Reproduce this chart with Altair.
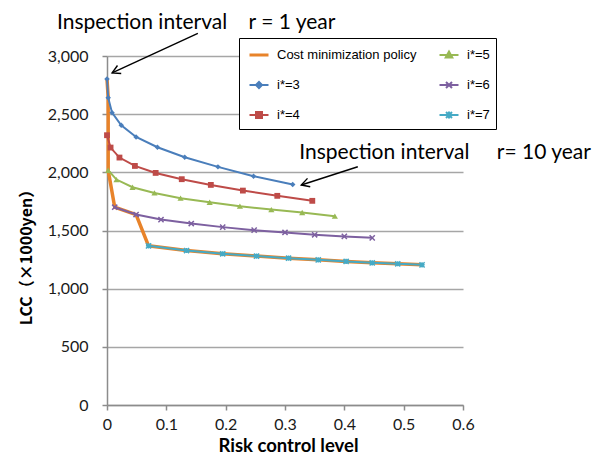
import altair as alt
import pandas as pd

# ---------------- data ----------------
COST = "Cost minimization policy"
series_names = [COST, "i*=3", "i*=4", "i*=5", "i*=6", "i*=7"]
series_colors = ["#E8832A", "#4A7EBB", "#BE4B48", "#98B954", "#7D60A0", "#46AAC5"]

cost_x = [0.000, 0.002, 0.002, 0.013, 0.049, 0.070, 0.134, 0.195, 0.252, 0.306, 0.356, 0.403, 0.447, 0.490, 0.531]
cost_y = [2802, 2642, 2018, 1700, 1637, 1368, 1328, 1300, 1280, 1262, 1248, 1234, 1222, 1214, 1205]

i3_x = [0.000, 0.002, 0.0085, 0.024, 0.049, 0.085, 0.131, 0.187, 0.247, 0.313]
i3_y = [2802, 2642, 2513, 2405, 2304, 2216, 2130, 2047, 1967, 1895]

i4_x = [0.000, 0.006, 0.021, 0.047, 0.082, 0.126, 0.175, 0.229, 0.287, 0.346]
i4_y = [2319, 2213, 2127, 2055, 1995, 1941, 1892, 1843, 1798, 1755]

i5_x = [0.002, 0.016, 0.043, 0.080, 0.124, 0.173, 0.224, 0.277, 0.329, 0.384]
i5_y = [2018, 1938, 1872, 1823, 1778, 1743, 1709, 1680, 1655, 1623]

i6_x = [0.013, 0.049, 0.091, 0.142, 0.195, 0.248, 0.300, 0.350, 0.400, 0.447]
i6_y = [1700, 1637, 1594, 1560, 1529, 1503, 1483, 1463, 1449, 1437]

i7_x = [0.070, 0.134, 0.195, 0.252, 0.306, 0.356, 0.403, 0.447, 0.490, 0.531]
i7_y = [1368, 1328, 1300, 1280, 1262, 1248, 1234, 1222, 1214, 1205]

x_ticks = [0, 0.1, 0.2, 0.3, 0.4, 0.5, 0.6]
y_ticks = [0, 500, 1000, 1500, 2000, 2500, 3000]

# annotations (data coordinates)
note_text = ["Inspection interval", "r = 1 year", "Inspection interval", "r= 10 year"]
note_x = [-0.0843, 0.2386, 0.324, 0.657]
note_y = [3232, 3232, 2112, 2112]

arrow_x0 = [0.1531, 0.4227]
arrow_y0 = [3195, 2048]
arrow_x1 = [0.0086, 0.3274]
arrow_y1 = [2855, 1891]
arrow_angle = [155, 162]

# ---------------- frames ----------------
rows = []
for name, xs_, ys_ in [(COST, cost_x, cost_y), ("i*=3", i3_x, i3_y), ("i*=4", i4_x, i4_y),
                       ("i*=5", i5_x, i5_y), ("i*=6", i6_x, i6_y), ("i*=7", i7_x, i7_y)]:
    for k, (a, b) in enumerate(zip(xs_, ys_)):
        rows.append({"series": name, "x": a, "y": b, "idx": k})
df = pd.DataFrame(rows)

notes = pd.DataFrame({"x": note_x, "y": note_y, "text": note_text})
arrows = pd.DataFrame({"x": arrow_x0, "y": arrow_y0, "x1": arrow_x1, "y1": arrow_y1, "ang": arrow_angle})

cmap = dict(zip(series_names, series_colors))

# ---------------- scales / axes ----------------
x_scale = alt.Scale(domain=[0, 0.6], nice=False, zero=False)
y_scale = alt.Scale(domain=[0, 3000], nice=False)

LBL = "Lato"
x_axis = alt.Axis(values=x_ticks, grid=False,
                  labelExpr="datum.value == 0 ? '0' : format(datum.value, '.1f')",
                  labelFlush=False, labelFont=LBL, labelFontSize=16, labelColor="#1a1a1a",
                  labelPadding=6, tickSize=5, tickColor="#8c8c8c", tickWidth=1.5,
                  domainColor="#8c8c8c", domainWidth=1.5,
                  title="Risk control level", titleFont=LBL, titleFontSize=18.5,
                  titleFontWeight="bold", titleColor="black", titleX=181, titleY=46,
                  titleBaseline="alphabetic", titleAlign="center")
y_axis = alt.Axis(values=y_ticks, format=",.0f", grid=True, gridColor="#a6a6a6", gridWidth=1.5,
                  labelFont=LBL, labelFontSize=16, labelColor="#1a1a1a", labelPadding=14,
                  tickSize=5, tickColor="#8c8c8c", tickWidth=1.5,
                  domainColor="#8c8c8c", domainWidth=1.5,
                  title="LCC（×1000yen）", titleFont="Noto Sans CJK JP", titleFontSize=16,
                  titleFontWeight="bold", titleColor="black", titleAngle=270,
                  titleX=-81, titleY=197, titleAlign="center", titleBaseline="middle")


def X(field="x"):
    return alt.X(f"{field}:Q", scale=x_scale, axis=x_axis)


def Y(field="y"):
    return alt.Y(f"{field}:Q", scale=y_scale, axis=y_axis)


def color_enc(names, legend=None):
    return alt.Color("series:N", scale=alt.Scale(domain=names, range=[cmap[n] for n in names]),
                     legend=legend)


base = alt.Chart(df)

# lines
cost_line = base.transform_filter(alt.datum.series == COST).mark_line(strokeWidth=3.5).encode(
    x=X(), y=Y(), color=color_enc([COST]), order="idx:Q")
istar = series_names[1:]
istar_line = base.transform_filter(alt.datum.series != COST).mark_line(strokeWidth=2).encode(
    x=X(), y=Y(), color=color_enc(istar), order="idx:Q")

# markers
filled_names = ["i*=3", "i*=4", "i*=5"]
filled_pts = base.transform_filter(alt.FieldOneOfPredicate(field="series", oneOf=filled_names)).mark_point(
    filled=True, opacity=1).encode(
    x=X(), y=Y(), color=color_enc(filled_names),
    shape=alt.Shape("series:N", scale=alt.Scale(domain=filled_names, range=["diamond", "square", "triangle-up"]), legend=None),
    size=alt.Size("series:N", scale=alt.Scale(domain=filled_names, range=[30, 38, 44]), legend=None))

x_path = "M-0.8,-0.8L0.8,0.8M-0.8,0.8L0.8,-0.8"
ast_path = "M-0.8,-0.8L0.8,0.8M-0.8,0.8L0.8,-0.8M-0.8,0L0.8,0M0,-0.8L0,0.8"
stroke_names = ["i*=6", "i*=7"]
stroke_pts = base.transform_filter(alt.FieldOneOfPredicate(field="series", oneOf=stroke_names)).mark_point(
    filled=False, opacity=1, strokeWidth=1.5, size=42).encode(
    x=X(), y=Y(), color=color_enc(stroke_names),
    shape=alt.Shape("series:N", scale=alt.Scale(domain=stroke_names, range=[x_path, ast_path]), legend=None))

# legend (entries fill column by column, 2 columns x 3 rows)
legend_order = [COST, "i*=3", "i*=4", "i*=5", "i*=6", "i*=7"]
L = "M-0.65,0L1.25,0"
leg_paths = {
    COST: "M-0.65,-0.06L1.25,-0.06M-0.65,0.06L1.25,0.06",
    "i*=3": L + "M0,0L0.3,-0.3L0.6,0L0.3,0.3Z",
    "i*=4": L + "M0,-0.3L0.6,-0.3L0.6,0.3L0,0.3ZM0,-0.15L0.6,-0.15M0,0.15L0.6,0.15",
    "i*=5": L + "M-0.03,0.25L0.3,-0.35L0.63,0.25ZM0.15,0.1L0.45,0.1",
    "i*=6": L + "M0,-0.3L0.6,0.3M0,0.3L0.6,-0.3",
    "i*=7": L + "M0,-0.3L0.6,0.3M0,0.3L0.6,-0.3M0.3,-0.35L0.3,0.35",
}
leg = alt.Legend(title=None, orient="none", legendX=132, legendY=-18, columns=2,
                 columnPadding=18, rowPadding=12, padding=6, strokeColor="black", fillColor="white",
                 symbolSize=400, symbolStrokeWidth=2, labelFont="Liberation Sans", labelFontSize=13,
                 labelColor="black", labelOffset=10,
                 labelExpr="indexof(['i*=5','i*=6','i*=7'], datum.label) >= 0 ? datum.label + '     ' : datum.label")
legend_layer = base.transform_filter("false").mark_point(filled=False, opacity=1, strokeWidth=2).encode(
    x=X(), y=Y(),
    color=alt.Color("series:N", scale=alt.Scale(domain=legend_order, range=[cmap[n] for n in legend_order]), legend=leg),
    shape=alt.Shape("series:N", scale=alt.Scale(domain=legend_order, range=[leg_paths[n] for n in legend_order]), legend=leg))

# annotations
arrow_lines = alt.Chart(arrows).mark_rule(color="black", strokeWidth=1.4).encode(
    x=X(), y=Y(), x2="x1:Q", y2="y1:Q")
head_path = "M-1,-0.55L0,0L-1,0.55"
arrow_heads = alt.Chart(arrows).mark_point(shape=head_path, filled=False, color="black", opacity=1,
                                           strokeWidth=1.4, size=256).encode(
    x=X("x1"), y=Y("y1"), angle=alt.Angle("ang:Q", scale=None))
note_layer = alt.Chart(notes).mark_text(align="left", baseline="alphabetic", font="Lato",
                                        fontSize=21, color="black").encode(
    x=X(), y=Y(), text="text:N")

chart = alt.layer(
    cost_line, istar_line, filled_pts, stroke_pts, legend_layer, arrow_lines, arrow_heads, note_layer
).resolve_scale(color="independent", shape="independent", size="independent").properties(
    width=356, height=349,
    padding={"left": 99, "top": 48, "right": 142, "bottom": 50},
    autosize=alt.AutoSizeParams(type="none"),
    background="white",
).configure_view(stroke=None)

chart.save("out.html", embed_options={"renderer": "svg", "actions": False})
